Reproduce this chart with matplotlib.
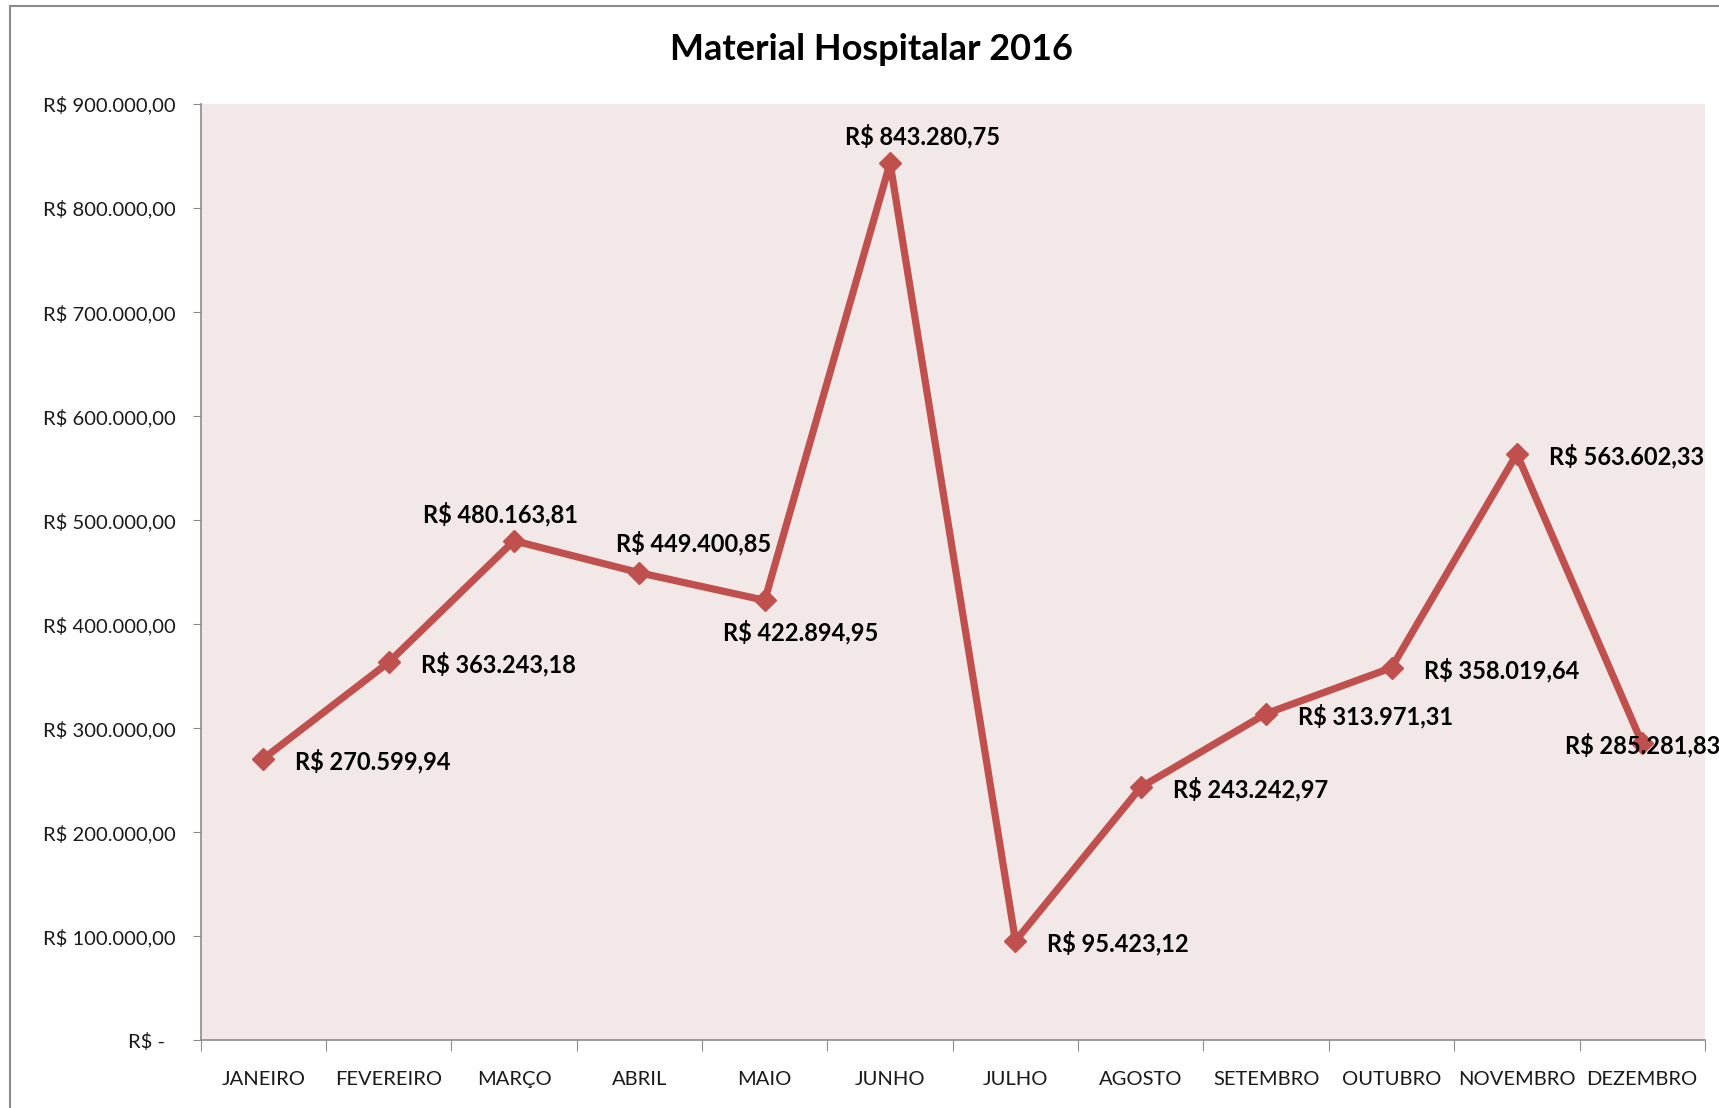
import matplotlib
matplotlib.use("Agg")
import matplotlib.pyplot as plt
from matplotlib.lines import Line2D
import numpy as np

# dados do grafico
meses = ["JANEIRO", "FEVEREIRO", "MARÇO", "ABRIL", "MAIO", "JUNHO",
         "JULHO", "AGOSTO", "SETEMBRO", "OUTUBRO", "NOVEMBRO", "DEZEMBRO"]
valores = [270599.94, 363243.18, 480163.81, 449400.85, 422894.95, 843280.75,
           95423.12, 243242.97, 313971.31, 358019.64, 563602.33, 285281.83]
y_ticks = [0, 100000, 200000, 300000, 400000, 500000, 600000, 700000, 800000, 900000]
titulo = "Material Hospitalar 2016"

# posicao dos rotulos (deslocamento em pixels, alinhamento)
rotulos_pos = [
    (32, -2, "left"), (32, -2, "left"), (-14, 27, "center"), (54, 30, "center"),
    (36, -32, "center"), (32, 27, "center"), (32, -2, "left"), (32, -2, "left"),
    (32, -3, "left"), (32, -2, "left"), (32, -2, "left"), (0, -2, "center"),
]

COR_LINHA = "#C0504D"
COR_FUNDO = "#F2E8E7"
COR_EIXO = "#8C8C8C"

plt.rcParams["font.family"] = ["Lato", "DejaVu Sans"]


def formata_real(v):
    s = f"{v:,.2f}"
    s = s.replace(",", "X").replace(".", ",").replace("X", ".")
    return "R$ " + s


fig = plt.figure(figsize=(17.19, 11.08), dpi=100)
ax = fig.add_axes([0.1167, 0.0612, 0.8751, 0.8449])
ax.set_facecolor(COR_FUNDO)

x = np.arange(len(meses))
ax.plot(x, valores, color=COR_LINHA, linewidth=5.2, marker="D",
        markersize=11.5, markerfacecolor=COR_LINHA, markeredgecolor=COR_LINHA,
        clip_on=False, zorder=3)

for xi, v, (dx, dy, ha) in zip(x, valores, rotulos_pos):
    ax.annotate(formata_real(v), (xi, v), xytext=(dx, dy), textcoords="offset pixels",
                ha=ha, va="center", fontsize=17, fontweight="bold",
                color="black", zorder=4, annotation_clip=False)

ax.set_xlim(-0.5, len(meses) - 0.5)
ax.set_ylim(0, 900000)

# ticks do eixo x entre categorias, rotulos no centro
ax.set_xticks(np.arange(-0.5, len(meses), 1.0))
ax.set_xticklabels([])
ax.set_xticks(x, minor=True)
ax.set_xticklabels(meses, minor=True)
ax.tick_params(axis="x", which="major", length=8, color=COR_EIXO, direction="out")
ax.tick_params(axis="x", which="minor", length=0, pad=22, labelsize=14.5,
               labelcolor="#1a1a1a")

ax.set_yticks(y_ticks)
ax.set_yticklabels([formata_real(t) if t else "R$ -  " for t in y_ticks])
ax.tick_params(axis="y", length=6, color=COR_EIXO, pad=12, labelsize=14.5,
               labelcolor="#1a1a1a")

for lado in ["top", "right"]:
    ax.spines[lado].set_visible(False)
for lado in ["left", "bottom"]:
    ax.spines[lado].set_color(COR_EIXO)
    ax.spines[lado].set_linewidth(1.2)

fig.text(871 / 1719, 1 - 49 / 1108, titulo, ha="center", va="center",
         fontsize=26, fontweight="bold")

# borda da area do grafico (esquerda e topo)
fig.add_artist(Line2D([10 / 1719, 10 / 1719], [0, 1 - 6 / 1108],
                      transform=fig.transFigure, color=COR_EIXO, linewidth=1.5))
fig.add_artist(Line2D([10 / 1719, 1], [1 - 6 / 1108, 1 - 6 / 1108],
                      transform=fig.transFigure, color=COR_EIXO, linewidth=1.5))

fig.savefig("out.png", dpi=100, facecolor="white")
